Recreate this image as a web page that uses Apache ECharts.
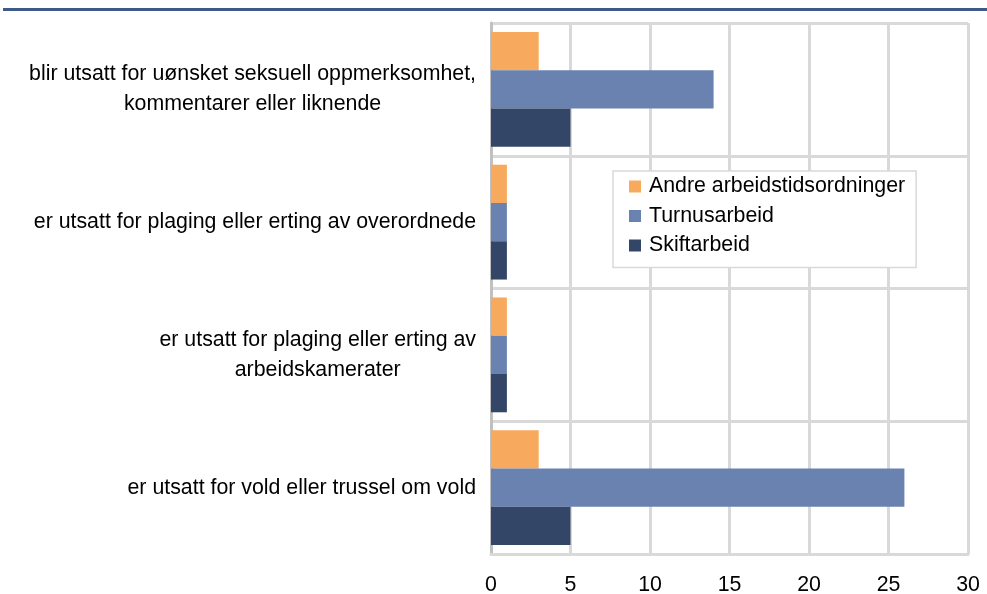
<!DOCTYPE html>
<html>
<head>
<meta charset="utf-8">
<script src="https://cdn.jsdelivr.net/npm/echarts@6/dist/echarts.min.js"></script>
<style>
html,body{margin:0;padding:0;background:#fff;}
#c{width:987px;height:594px;}
</style>
</head>
<body>
<div id="c"></div>
<script>
var categories = [
  "blir utsatt for uønsket seksuell oppmerksomhet,\nkommentarer eller liknende",
  "er utsatt for plaging eller erting av overordnede",
  "er utsatt for plaging eller erting av\narbeidskamerater",
  "er utsatt for vold eller trussel om vold"
];
var seriesNames = ["Andre arbeidstidsordninger", "Turnusarbeid", "Skiftarbeid"];
var andre = [3, 1, 1, 3];
var turnus = [14, 1, 1, 26];
var skift = [5, 1, 1, 5];
var xTicks = { min: 0, max: 30, interval: 5 };

var colors = ["#F7AA5E", "#6A82B0", "#344667"];
var chart = echarts.init(document.getElementById('c'), null, { renderer: 'canvas' });
var font = "'Liberation Sans', Arial, sans-serif";
var fs = 21.33;

function mk(name, data, color) {
  return {
    name: name, type: 'bar', data: data,
    barGap: 0, barCategoryGap: '13.5%',
    itemStyle: { color: color },
    animation: false
  };
}

chart.setOption({
  animation: false,
  color: colors,
  textStyle: { fontFamily: font },
  graphic: [{
    type: 'line', shape: { x1: 3, y1: 9.5, x2: 987, y2: 9.5 },
    style: { stroke: '#3E5A87', lineWidth: 3 }
  }],
  grid: { left: 491, right: 19, top: 23, bottom: 40, containLabel: false, outerBoundsMode: 'none' },
  legend: {
    orient: 'vertical', left: 613, top: 171,
    backgroundColor: '#fff', borderColor: '#D9D9D9', borderWidth: 1.5,
    padding: [3.5, 11, 10, 16],
    itemWidth: 12, itemHeight: 12, itemGap: 5.5,
    icon: 'rect',
    data: seriesNames,
    textStyle: { fontFamily: font, fontSize: fs, color: '#000', lineHeight: 24, padding: [0, 0, 0, 3] }
  },
  xAxis: {
    type: 'value', min: xTicks.min, max: xTicks.max, interval: xTicks.interval,
    axisLine: { show: true, lineStyle: { color: '#D9D9D9', width: 3 } },
    axisTick: { show: false },
    splitLine: { show: true, lineStyle: { color: '#D9D9D9', width: 3 } },
    axisLabel: { fontFamily: font, fontSize: fs, color: '#000', margin: 21 }
  },
  yAxis: {
    type: 'category', data: categories, inverse: true,
    axisLine: { show: true, lineStyle: { color: '#C0C0C0', width: 3 } },
    axisTick: { show: false },
    splitLine: { show: true, lineStyle: { color: '#D9D9D9', width: 3 } },
    axisLabel: {
      margin: 15, align: 'right',
      formatter: function (v) {
        return v.split('\n').map(function (l) { return '{c|' + l + '}'; }).join('\n');
      },
      rich: { c: { align: 'center', fontFamily: font, fontSize: fs, lineHeight: 30, color: '#000' } }
    }
  },
  series: [
    mk(seriesNames[0], andre, colors[0]),
    mk(seriesNames[1], turnus, colors[1]),
    mk(seriesNames[2], skift, colors[2])
  ]
});
</script>
</body>
</html>
